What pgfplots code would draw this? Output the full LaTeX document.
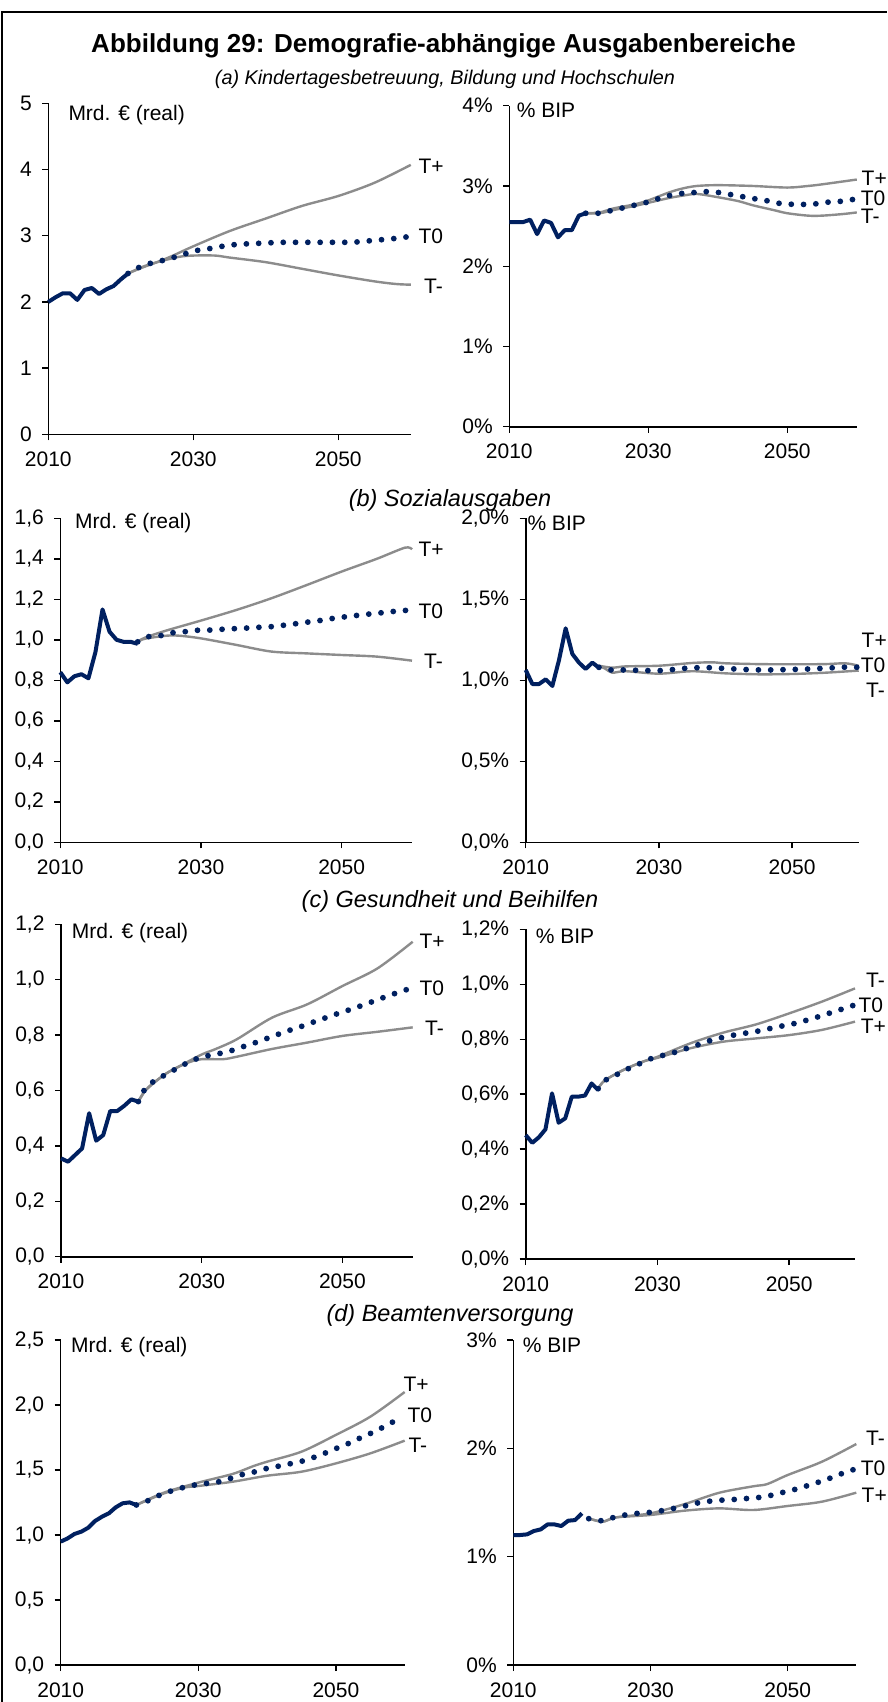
\documentclass[border=0pt]{standalone}
\usepackage{pgfplots}
\pgfplotsset{compat=1.18}
\usepackage{fontspec}
\setmainfont{Liberation Sans}
\definecolor{navy}{RGB}{0,32,96}
\definecolor{lgray}{RGB}{140,140,140}
\pgfplotsset{
  panel/.style={
    scale only axis, anchor=south west,
    axis lines=left, axis line style={-, line width=1.6pt, black},
    xmin=2010, xmax=2060, ymin=0,
    xtick={2010,2030,2050}, xticklabels={2010,2030,2050},
    tick align=outside, major tick length=6pt,
    every tick/.style={line width=1.4pt, black},
    minor tick num=0,
    clip=false,
    font=\fontsize{21}{24}\selectfont,
    yticklabel style={xshift=-7pt},
    xticklabel style={yshift=-8pt},
  },
  hist/.style={navy, line width=4pt, line join=round, no marks},
  tzero/.style={navy, line width=5.8pt, line cap=round, dash pattern=on 0pt off 12.3pt, no marks},
  tgray/.style={lgray, line width=2.4pt, no marks, smooth, tension=0.5},
}
\newcommand{\lab}[3]{\node[anchor=west, inner sep=0pt, font=\fontsize{21}{24}\selectfont] at (#1pt,-#2pt) {#3};}
\begin{document}
\begin{tikzpicture}
\path[use as bounding box] (0,0) rectangle (887pt,-1702pt);
\draw[line width=2pt] (2pt,-1702pt) -- (2pt,-12pt) -- (887pt,-12pt);
\node[font=\bfseries\fontsize{26}{30}\selectfont] at (443.5pt,-45.6pt) {Abbildung 29: Demografie-abhängige Ausgabenbereiche};
\node[font=\itshape\fontsize{19.8}{24}\selectfont] at (445pt,-79pt) {(a) Kindertagesbetreuung, Bildung und Hochschulen};
\node[font=\itshape\fontsize{23.5}{26}\selectfont] at (450pt,-500pt) {(b) Sozialausgaben};
\node[font=\itshape\fontsize{23.5}{26}\selectfont] at (450pt,-901pt) {(c) Gesundheit und Beihilfen};
\node[font=\itshape\fontsize{23.5}{26}\selectfont] at (450pt,-1315pt) {(d) Beamtenversorgung};

% ---------- (a) left
\begin{axis}[panel, at={(48.3pt,-434.3pt)}, width=362.5pt, height=331pt, ymax=5,
  ytick={0,1,2,3,4,5}, yticklabels={0,1,2,3,4,5}]
\addplot[tgray] coordinates {(2021,2.43)(2023,2.52)(2025,2.60)(2027,2.69)(2030,2.84)(2035,3.07)(2040,3.26)(2045,3.45)(2050,3.60)(2055,3.80)(2060,4.07)};
\addplot[tgray] coordinates {(2021,2.43)(2023,2.53)(2025,2.60)(2028,2.68)(2030,2.70)(2033,2.70)(2035,2.67)(2040,2.60)(2045,2.50)(2050,2.40)(2055,2.31)(2058,2.27)(2060,2.26)};
\addplot[tzero] coordinates {(2021,2.43)(2022,2.50)(2023,2.54)(2024,2.58)(2025,2.61)(2026,2.63)(2027,2.66)(2028,2.70)(2029,2.73)(2030,2.77)(2032,2.80)(2034,2.84)(2036,2.87)(2038,2.88)(2040,2.89)(2042,2.90)(2046,2.90)(2050,2.90)(2052,2.90)(2054,2.92)(2056,2.94)(2058,2.96)(2060,2.99)};
\addplot[hist] coordinates {(2010,2.00)(2011,2.07)(2012,2.13)(2013,2.13)(2014,2.03)(2015,2.18)(2016,2.21)(2017,2.12)(2018,2.19)(2019,2.24)(2020,2.34)(2021,2.43)};
\end{axis}
% ---------- (a) right
\begin{axis}[panel, at={(509.3pt,-426.7pt)}, width=347.5pt, height=321pt, ymax=4,
  ytick={0,1,2,3,4}, yticklabels={0\%,1\%,2\%,3\%,4\%}]
\addplot[tgray] coordinates {(2021,2.66)(2023,2.67)(2025,2.72)(2028,2.77)(2030,2.82)(2033,2.92)(2035,2.97)(2037,3.00)(2040,3.01)(2045,3.00)(2050,2.98)(2053,3.00)(2055,3.02)(2060,3.08)};
\addplot[tgray] coordinates {(2021,2.66)(2023,2.66)(2025,2.70)(2028,2.75)(2030,2.79)(2033,2.85)(2035,2.88)(2037,2.90)(2040,2.86)(2043,2.81)(2045,2.76)(2048,2.70)(2050,2.66)(2053,2.63)(2055,2.63)(2058,2.65)(2060,2.67)};
\addplot[tzero] coordinates {(2021,2.66)(2023,2.66)(2025,2.70)(2026,2.72)(2028,2.76)(2030,2.80)(2031,2.83)(2033,2.88)(2035,2.91)(2037,2.92)(2038.5,2.93)(2040,2.92)(2042,2.89)(2044,2.86)(2046,2.83)(2047.5,2.81)(2049,2.78)(2051,2.77)(2053,2.77)(2054.5,2.78)(2056,2.80)(2058,2.81)(2060,2.84)};
\addplot[hist] coordinates {(2010,2.55)(2011,2.55)(2012,2.55)(2013,2.58)(2014,2.40)(2015,2.57)(2016,2.54)(2017,2.36)(2018,2.45)(2019,2.45)(2020,2.63)(2021,2.66)};
\end{axis}
% ---------- (b) left
\begin{axis}[panel, at={(60.3pt,-842.3pt)}, width=351.7pt, height=324pt, ymax=1.6,
  ytick={0,0.2,0.4,0.6,0.8,1.0,1.2,1.4,1.6}, yticklabels={{0,0},{0,2},{0,4},{0,6},{0,8},{1,0},{1,2},{1,4},{1,6}}]
\addplot[tgray] coordinates {(2021,0.99)(2022,1.01)(2025,1.045)(2030,1.095)(2035,1.147)(2040,1.205)(2045,1.27)(2050,1.337)(2055,1.40)(2059,1.455)(2060,1.447)};
\addplot[tgray] coordinates {(2021,0.99)(2022,1.005)(2025,1.02)(2027,1.02)(2030,1.007)(2035,0.975)(2040,0.942)(2045,0.933)(2050,0.925)(2055,0.917)(2060,0.897)};
\addplot[tzero] coordinates {(2021,0.99)(2022.6,1.016)(2024.2,1.02)(2026,1.035)(2027.7,1.04)(2029.5,1.047)(2031.2,1.048)(2033,1.052)(2034.7,1.055)(2036.5,1.058)(2038.3,1.062)(2040,1.065)(2041.8,1.072)(2043.6,1.08)(2045.3,1.088)(2047.1,1.096)(2048.8,1.106)(2050.6,1.114)(2052.3,1.121)(2054.1,1.128)(2055.8,1.134)(2057.6,1.141)(2059.4,1.146)(2060,1.147)};
\addplot[hist] coordinates {(2010,0.84)(2011,0.79)(2012,0.82)(2013,0.83)(2014,0.81)(2015,0.94)(2016,1.15)(2017,1.04)(2018,1.00)(2019,0.99)(2020,0.99)(2021,0.98)};
\end{axis}
% ---------- (b) right
\begin{axis}[panel, at={(525.7pt,-842.3pt)}, width=333pt, height=324pt, ymax=2,
  ytick={0,0.5,1,1.5,2}, yticklabels={{0,0\%},{0,5\%},{1,0\%},{1,5\%},{2,0\%}}]
\addplot[tgray] coordinates {(2021,1.09)(2023,1.078)(2025,1.086)(2030,1.09)(2035,1.107)(2038,1.111)(2040,1.105)(2045,1.10)(2050,1.099)(2055,1.10)(2058,1.105)(2060,1.09)};
\addplot[tgray] coordinates {(2021,1.09)(2022,1.07)(2023,1.047)(2025,1.056)(2030,1.041)(2035,1.056)(2040,1.043)(2045,1.037)(2050,1.039)(2055,1.047)(2060,1.06)};
\addplot[tzero] coordinates {(2021,1.08)(2022.8,1.064)(2024.6,1.064)(2026.4,1.062)(2028.3,1.06)(2030.2,1.06)(2032,1.066)(2033.9,1.074)(2035.8,1.078)(2037.7,1.078)(2039.5,1.074)(2041.4,1.07)(2043.3,1.066)(2045.2,1.064)(2047.1,1.064)(2048.9,1.066)(2050.9,1.068)(2052.7,1.07)(2054.6,1.074)(2056.5,1.078)(2058.3,1.082)(2060,1.08)};
\addplot[hist] coordinates {(2010,1.064)(2011,0.977)(2012,0.977)(2013,1.006)(2014,0.965)(2015,1.125)(2016,1.321)(2017,1.163)(2018,1.109)(2019,1.07)(2020,1.109)(2021,1.078)};
\end{axis}
% ---------- (c) left
\begin{axis}[panel, at={(61pt,-1256.7pt)}, width=351.7pt, height=332.4pt, ymax=1.2,
  ytick={0,0.2,0.4,0.6,0.8,1.0,1.2}, yticklabels={{0,0},{0,2},{0,4},{0,6},{0,8},{1,0},{1,2}}]
\addplot[tgray] coordinates {(2021,0.56)(2022,0.60)(2023,0.625)(2025,0.662)(2027,0.69)(2030,0.73)(2032,0.75)(2035,0.785)(2040,0.863)(2045,0.911)(2050,0.977)(2055,1.041)(2060,1.137)};
\addplot[tgray] coordinates {(2021,0.56)(2022,0.60)(2025,0.662)(2028,0.70)(2030,0.713)(2033,0.713)(2035,0.722)(2040,0.75)(2045,0.773)(2050,0.797)(2055,0.812)(2060,0.828)};
\addplot[tzero] coordinates {(2021,0.56)(2021.8,0.60)(2023.1,0.632)(2024.7,0.655)(2026.2,0.676)(2027.8,0.698)(2029.4,0.716)(2031.1,0.727)(2032.8,0.735)(2034.5,0.746)(2036.2,0.761)(2037.9,0.775)(2039.6,0.791)(2041.2,0.806)(2042.9,0.821)(2044.5,0.834)(2046.2,0.85)(2047.9,0.865)(2049.6,0.88)(2051.2,0.893)(2052.9,0.908)(2054.5,0.923)(2056.2,0.939)(2057.9,0.954)(2059.6,0.968)};
\addplot[hist] coordinates {(2010,0.355)(2011,0.343)(2012,0.367)(2013,0.391)(2014,0.518)(2015,0.419)(2016,0.439)(2017,0.526)(2018,0.526)(2019,0.545)(2020,0.568)(2021,0.56)};
\end{axis}
% ---------- (c) right
\begin{axis}[panel, at={(525.7pt,-1259pt)}, width=329.3pt, height=329.7pt, ymax=1.2,
  ytick={0,0.2,0.4,0.6,0.8,1.0,1.2}, yticklabels={{0,0\%},{0,2\%},{0,4\%},{0,6\%},{0,8\%},{1,0\%},{1,2\%}}]
\addplot[tgray] coordinates {(2021,0.62)(2022,0.65)(2025,0.69)(2028,0.72)(2030,0.736)(2035,0.785)(2040,0.824)(2045,0.854)(2050,0.894)(2055,0.937)(2060,0.985)};
\addplot[tgray] coordinates {(2021,0.62)(2022,0.65)(2025,0.69)(2028,0.72)(2030,0.732)(2035,0.767)(2040,0.791)(2045,0.803)(2050,0.815)(2055,0.834)(2060,0.864)};
\addplot[tzero] coordinates {(2021,0.62)(2022,0.65)(2023.8,0.671)(2025.5,0.692)(2027.3,0.711)(2029,0.729)(2030.8,0.741)(2032.6,0.752)(2034.4,0.766)(2036.2,0.78)(2038,0.795)(2039.8,0.806)(2041.6,0.815)(2043.6,0.823)(2045.4,0.83)(2047.3,0.84)(2049.1,0.849)(2051,0.858)(2052.8,0.87)(2054.6,0.883)(2056.4,0.897)(2058.2,0.911)(2060,0.925)};
\addplot[hist] coordinates {(2010,0.451)(2011,0.423)(2012,0.443)(2013,0.472)(2014,0.603)(2015,0.496)(2016,0.512)(2017,0.591)(2018,0.591)(2019,0.595)(2020,0.639)(2021,0.615)};
\end{axis}
% ---------- (d) left
\begin{axis}[panel, at={(60.7pt,-1665pt)}, width=344pt, height=325pt, ymax=2.5,
  ytick={0,0.5,1,1.5,2,2.5}, yticklabels={{0,0},{0,5},{1,0},{1,5},{2,0},{2,5}}]
\addplot[tgray] coordinates {(2021,1.231)(2025,1.326)(2030,1.403)(2035,1.47)(2038,1.53)(2040,1.564)(2045,1.641)(2050,1.77)(2055,1.91)(2060,2.10)};
\addplot[tgray] coordinates {(2021,1.231)(2025,1.32)(2028,1.365)(2030,1.377)(2035,1.41)(2040,1.456)(2045,1.487)(2050,1.551)(2055,1.628)(2060,1.726)};
\addplot[tzero] coordinates {(2021,1.231)(2022.6,1.262)(2024.3,1.305)(2026,1.338)(2027.7,1.364)(2029.5,1.385)(2031.2,1.397)(2033,1.41)(2034.7,1.436)(2036.5,1.467)(2038.3,1.487)(2040,1.513)(2041.8,1.531)(2043.6,1.551)(2045.4,1.572)(2047.1,1.603)(2048.8,1.638)(2050.4,1.674)(2052.1,1.71)(2053.7,1.751)(2055.4,1.79)(2057,1.833)(2058.6,1.879)};
\addplot[hist] coordinates {(2010,0.949)(2011,0.974)(2012,1.008)(2013,1.026)(2014,1.056)(2015,1.108)(2016,1.141)(2017,1.167)(2018,1.213)(2019,1.244)(2020,1.251)(2021,1.231)};
\end{axis}
% ---------- (d) right
\begin{axis}[panel, at={(513.3pt,-1665pt)}, width=343pt, height=325pt, ymax=3,
  ytick={0,1,2,3}, yticklabels={0\%,1\%,2\%,3\%}]
\addplot[tgray] coordinates {(2021,1.354)(2023,1.323)(2025,1.363)(2030,1.40)(2035,1.486)(2040,1.59)(2045,1.65)(2047,1.67)(2050,1.754)(2055,1.877)(2060,2.04)};
\addplot[tgray] coordinates {(2021,1.354)(2023,1.323)(2025,1.363)(2030,1.385)(2035,1.425)(2040,1.446)(2045,1.431)(2050,1.468)(2055,1.508)(2060,1.591)};
\addplot[tzero] coordinates {(2021,1.351)(2022.8,1.332)(2024.5,1.36)(2026.3,1.385)(2028.1,1.40)(2029.9,1.409)(2031.7,1.425)(2033.4,1.446)(2035.2,1.471)(2037,1.498)(2038.8,1.514)(2040.6,1.523)(2042.4,1.529)(2044.2,1.538)(2046,1.548)(2047.8,1.569)(2049.5,1.597)(2051.3,1.625)(2053,1.658)(2054.7,1.692)(2056.5,1.732)(2058.2,1.775)(2060,1.812)};
\addplot[hist] coordinates {(2010,1.20)(2011,1.20)(2012,1.206)(2013,1.237)(2014,1.252)(2015,1.298)(2016,1.298)(2017,1.283)(2018,1.332)(2019,1.338)(2020,1.40)};
\end{axis}

% ---------- unit labels
\lab{68.3}{115}{Mrd. € (real)}
\lab{516.7}{110}{\% BIP}
\lab{75}{523}{Mrd. € (real)}
\lab{527.3}{523}{\% BIP}
\lab{71.7}{932.7}{Mrd. € (real)}
\lab{535.7}{936.7}{\% BIP}
\lab{71}{1346.7}{Mrd. € (real)}
\lab{522.7}{1345}{\% BIP}
% ---------- scenario labels
\lab{418.3}{166}{T+}\lab{418.3}{236.7}{T0}\lab{424}{286}{T-}
\lab{861.5}{178.3}{T+}\lab{860.7}{198.3}{T0}\lab{860.7}{216.7}{T-}
\lab{418.3}{549}{T+}\lab{418.3}{611.7}{T0}\lab{424}{661.7}{T-}
\lab{861.5}{640}{T+}\lab{860.7}{665}{T0}\lab{866}{690}{T-}
\lab{419.3}{941.7}{T+}\lab{419.3}{988.3}{T0}\lab{425}{1028.3}{T-}
\lab{866}{980}{T-}\lab{858.3}{1005}{T0}\lab{860.7}{1026.7}{T+}
\lab{403.3}{1384}{T+}\lab{407.3}{1415}{T0}\lab{408.3}{1445}{T-}
\lab{866}{1438.3}{T-}\lab{860.7}{1468.3}{T0}\lab{861.5}{1495}{T+}
\end{tikzpicture}
\end{document}
